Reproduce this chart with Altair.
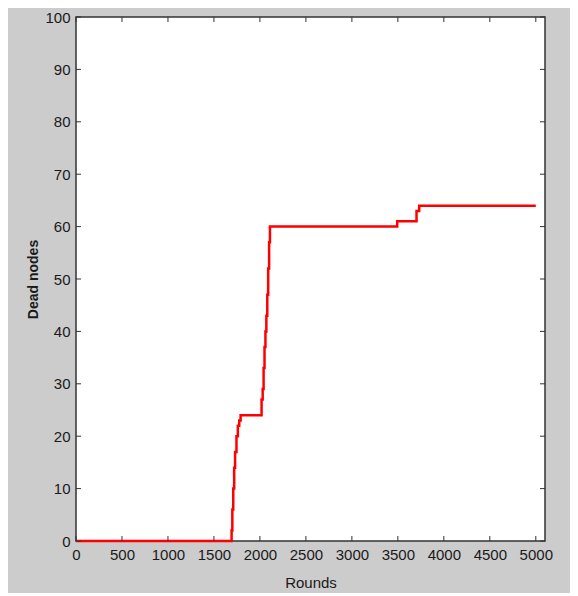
import altair as alt
import pandas as pd

# Step curve of dead nodes vs rounds
rounds = [0, 1692, 1700, 1710, 1720, 1730, 1745, 1760, 1775, 1790,
          2018, 2030, 2040, 2050, 2060, 2070, 2080, 2090, 2100, 2109,
          3493, 3703, 3732, 5000]
dead = [0, 2, 6, 10, 14, 17, 20, 22, 23, 24,
        27, 29, 33, 37, 40, 43, 47, 52, 57, 60,
        61, 63, 64, 64]

x_ticks = [0, 500, 1000, 1500, 2000, 2500, 3000, 3500, 4000, 4500, 5000]
y_ticks = [0, 10, 20, 30, 40, 50, 60, 70, 80, 90, 100]

W, H = 469, 524
FONT = "Liberation Sans Narrow, Liberation Sans, Arial, sans-serif"
TXT = "#1a1a1a"

df = pd.DataFrame({"rounds": rounds, "dead": dead})
xs = alt.Scale(domain=[0, 5100], nice=False, zero=False)
ys = alt.Scale(domain=[0, 100], nice=False)

x_axis = alt.Axis(values=x_ticks, title="Rounds", format="d",
                  ticks=False, domain=False, grid=False,
                  labelPadding=6, titlePadding=13,
                  labelFontSize=15, titleFontSize=15,
                  labelFont=FONT, titleFont=FONT,
                  labelColor=TXT, titleColor=TXT,
                  titleFontWeight="normal", labelFlush=False)
y_axis = alt.Axis(values=y_ticks, title="Dead nodes", format="d",
                  ticks=False, domain=False, grid=False,
                  labelPadding=6, titlePadding=4,
                  labelFontSize=15, titleFontSize=14,
                  labelFont=FONT, titleFont="Liberation Sans, Arial, sans-serif",
                  labelColor=TXT, titleColor=TXT,
                  titleFontWeight="bold", labelFlush=False)

line = alt.Chart(df).mark_line(
    color="#ff0000", strokeWidth=2.5, interpolate="step-after"
).encode(
    x=alt.X("rounds:Q", scale=xs, axis=x_axis),
    y=alt.Y("dead:Q", scale=ys, axis=y_axis),
)

xt = pd.DataFrame({"t": x_ticks})
yt = pd.DataFrame({"t": y_ticks})
TC = "#333333"

xb = alt.Chart(xt).mark_rule(color=TC, strokeWidth=1).encode(
    x=alt.X("t:Q", scale=xs, axis=x_axis), y=alt.value(H), y2=alt.value(H - 5))
xtop = alt.Chart(xt).mark_rule(color=TC, strokeWidth=1).encode(
    x=alt.X("t:Q", scale=xs, axis=x_axis), y=alt.value(0), y2=alt.value(5))
yl = alt.Chart(yt).mark_rule(color=TC, strokeWidth=1).encode(
    y=alt.Y("t:Q", scale=ys, axis=y_axis), x=alt.value(0), x2=alt.value(5))
yr = alt.Chart(yt).mark_rule(color=TC, strokeWidth=1).encode(
    y=alt.Y("t:Q", scale=ys, axis=y_axis), x=alt.value(W), x2=alt.value(W - 5))

chart = alt.layer(line, xb, xtop, yl, yr).properties(
    width=W, height=H,
    background="#cccccc",
    padding={"left": 68, "top": 9, "right": 25, "bottom": 52},
    autosize=alt.AutoSizeParams(type="none"),
).configure_view(
    fill="white", stroke="#333333", strokeWidth=1.5
)

chart.save("out.html", embed_options={"renderer": "svg", "actions": False})
